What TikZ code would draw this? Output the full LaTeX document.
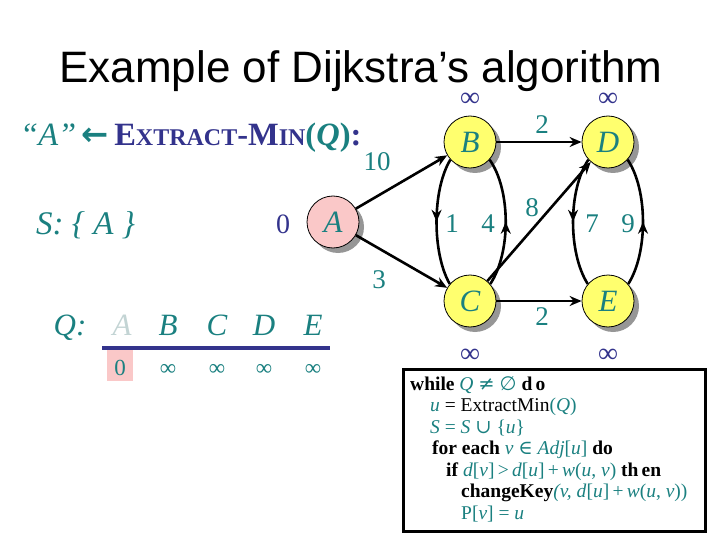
\documentclass[tikz,border=0pt]{standalone}
\usepackage{fontspec}
\setmainfont{Liberation Serif}
\newfontfamily\titlef{Liberation Sans}
\newfontfamily\symf{DejaVu Sans}
\newfontfamily\symsf{DejaVu Serif}
\newfontfamily\arrf{DejaVu Sans}
\usetikzlibrary{arrows.meta,shadows,decorations.markings}
\definecolor{tealc}{RGB}{26,128,128}
\definecolor{navyc}{RGB}{51,51,140}
\definecolor{pinkc}{RGB}{250,200,200}
\definecolor{yellc}{RGB}{255,255,110}
\definecolor{shadc}{RGB}{150,150,150}
\definecolor{fadec}{RGB}{195,212,212}
\tikzset{
  vtx/.style={circle, draw=black, line width=0.8pt, minimum size=52pt, inner sep=0pt,
    font=\fontsize{31}{32}\selectfont\itshape, text=tealc,
    drop shadow={shadow xshift=5pt, shadow yshift=-5pt, fill=shadc, opacity=1}},
  vyel/.style={vtx, fill=yellc},
  vpink/.style={vtx, fill=pinkc},
  edge/.style={line width=2.6pt, -{Stealth[length=12pt,width=10pt]}},
  midarrow/.style={line width=2.6pt, postaction={decorate},
    decoration={markings, mark=at position 0.5 with {\arrow{Stealth[length=12pt,width=10pt]}}}},
  wlab/.style={font=\fontsize{27}{28}\selectfont, text=tealc, inner sep=0pt},
  inflab/.style={font=\fontsize{28}{28}\selectfont, text=navyc, inner sep=0pt},
  inftop/.style={inflab, text height=10pt, text depth=0pt, anchor=base},
  qlab/.style={font=\fontsize{31}{32}\selectfont\itshape, text=tealc, anchor=base, inner sep=0pt},
  qval/.style={font=\fontsize{23}{24}\selectfont, text=tealc, anchor=base, inner sep=0pt},
  code/.style={font=\fontsize{19.5}{20}\selectfont, anchor=base west, inner sep=0pt}
}
\begin{document}
\begin{tikzpicture}[x=1pt,y=-1pt]
\useasboundingbox (0,0) rectangle (720,540);
% title
\node[font=\titlef\fontsize{44}{50}\selectfont, anchor=base, inner sep=0pt] (title) at (361,83) {Example of Dijkstra’s algorithm};
% heading
\node[anchor=base west, inner sep=0pt] (head) at (20,146) {\fontsize{32.5}{34}\selectfont\color{tealc}\textit{“A”}\,{\arrf\bfseries ←}\,\color{navyc}\textbf{E{\fontsize{24}{26}\selectfont XTRACT}-M{\fontsize{24}{26}\selectfont IN}}\textbf{\color{tealc}(\textit{Q})}\textbf{:}};
\node[anchor=base west, inner sep=0pt, font=\fontsize{33}{34}\selectfont\itshape, text=tealc] (set) at (36,234) {S: \{ A \}};
% graph nodes
\node[vpink] (A) at (333,222) {A};
\node[vyel] (B) at (470,142) {B};
\node[vyel] (D) at (608,142) {D};
\node[vyel] (C) at (470,301) {C};
\node[vyel] (E) at (608,301) {E};
% edges
\draw[edge] (A) -- (B);
\draw[edge] (A) -- (C);
\draw[edge] (B) -- (D);
\draw[edge] (C) -- (E);
\draw[edge] (C) -- (D);
\draw[midarrow] (B.222) .. controls (432,190) and (432,253) .. (C.140);
\draw[midarrow] (C.40) .. controls (511,253) and (511,190) .. (B.-42);
\draw[midarrow] (D.222) .. controls (568,190) and (568,253) .. (E.140);
\draw[midarrow] (E.40) .. controls (648,253) and (648,190) .. (D.-42);
% distance labels
\node[inftop] (dB) at (470,107) {∞};
\node[inftop] (dD) at (608,107) {∞};
\node[inflab] (dC) at (470,356) {∞};
\node[inflab] (dE) at (608,356) {∞};
\node[inflab] (dA) at (283,224) {0};
% weights
\node[wlab] (w1) at (377,162) {10};
\node[wlab] (w2) at (379,280) {3};
\node[wlab] (w3) at (542,125) {2};
\node[wlab] (w4) at (542,317) {2};
\node[wlab] (w5) at (532,208) {8};
\node[wlab] (w6) at (452,224) {1};
\node[wlab] (w7) at (488,224) {4};
\node[wlab] (w8) at (592,224) {7};
\node[wlab] (w9) at (628,224) {9};
% queue
\node[qlab] (qq) at (70,335) {Q:};
\node[qlab, text=fadec] (qa) at (122,335) {A};
\node[qlab] (qb) at (168,335) {B};
\node[qlab] (qc) at (217,335) {C};
\node[qlab] (qd) at (264,335) {D};
\node[qlab] (qe) at (313,335) {E};
\draw[navyc, line width=4pt] (102,348) -- (330,348);
\fill[pinkc] (107,350) rectangle (133,381);
\node[qval] (va) at (120,375) {0};
\node[qval] (vb) at (168,375) {∞};
\node[qval] (vc) at (217,375) {∞};
\node[qval] (vd) at (264,375) {∞};
\node[qval] (ve) at (313,375) {∞};
% pseudocode
\draw[line width=3pt] (403,369) rectangle (705,531);
\node[code] (l1) at (410,390) {\textbf{while} {\color{tealc}\textit{Q} {\symsf ≠} {\symf ∅}} \textbf{d\,o}};
\node[code] (l2) at (430,411.5) {{\color{tealc}\textit{u}} = ExtractMin{\color{tealc}(\textit{Q})}};
\node[code] (l3) at (430,433) {{\color{tealc}\textit{S} = \textit{S} {\symsf ∪} \{\textit{u}\}}};
\node[code] (l4) at (432,454.5) {\textbf{for each} {\color{tealc}\textit{v} {\symsf ∈} \textit{Adj}[\textit{u}]} \textbf{do}};
\node[code] (l5) at (446,476) {\textbf{if} {\color{tealc}\textit{d}[\textit{v}]\,>\,\textit{d}[\textit{u}]\,+\,\textit{w}(\textit{u}, \textit{v})} \textbf{th\,en}};
\node[code] (l6) at (461,497.5) {\textbf{changeKey}{\color{tealc}\textit{(v, d}[\textit{u}]\,+\,\textit{w}(\textit{u}, \textit{v}))}};
\node[code] (l7) at (461,519) {{\color{tealc}P[\textit{v}] = \textit{u}}};
\end{tikzpicture}
\end{document}
